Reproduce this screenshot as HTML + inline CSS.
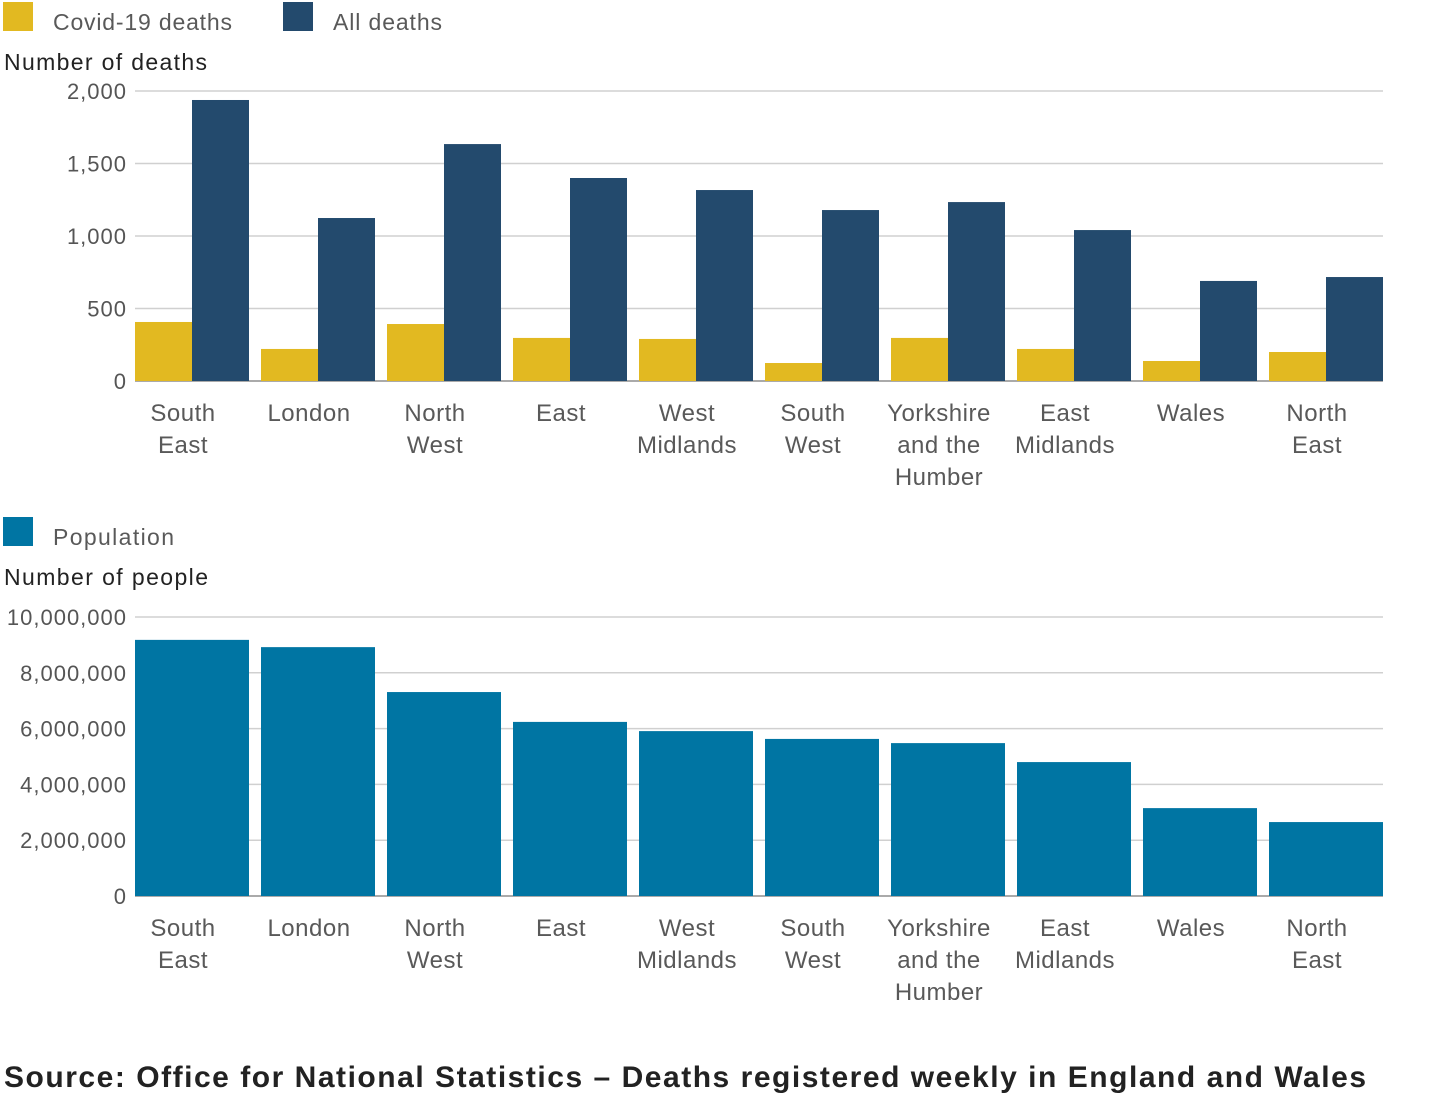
<!DOCTYPE html>
<html><head><meta charset="utf-8"><style>
body{margin:0;background:#fff;width:1448px;height:1103px;overflow:hidden;font-family:"Liberation Sans",sans-serif}
svg text{font-family:"Liberation Sans",sans-serif}
</style></head><body>
<svg id="c" width="1448" height="1103"></svg>
<script>
const categories=[["South","East"],["London"],["North","West"],["East"],["West","Midlands"],["South","West"],["Yorkshire","and the","Humber"],["East","Midlands"],["Wales"],["North","East"]];
const covidDeaths=[407,221,393,297,290,124,297,221,138,200];
const allDeaths=[1938,1124,1634,1400,1317,1179,1234,1041,690,717];
const population=[9180000,8920000,7310000,6240000,5910000,5630000,5480000,4800000,3150000,2650000];
const deathTicks=[0,500,1000,1500,2000];
const deathTickLabels=["0","500","1,000","1,500","2,000"];
const popTicks=[0,2000000,4000000,6000000,8000000,10000000];
const popTickLabels=["0","2,000,000","4,000,000","6,000,000","8,000,000","10,000,000"];

const svg=document.getElementById('c');
const NS='http://www.w3.org/2000/svg';
function mk(tag,attrs,parent){const e=document.createElementNS(NS,tag);for(const k in attrs)e.setAttribute(k,attrs[k]);(parent||svg).appendChild(e);return e;}
function txt(x,y,s,attrs){const t=mk('text',Object.assign({x:x,y:y},attrs));t.textContent=s;return t;}
const X0=135,STEP=126,BW=57;
function yD(v){return 381-v*(290/2000);}
function yP(v){return 896-v*(279/10000000);}

let r=mk('rect',{x:3,y:2,width:30,height:29,fill:'#e2b921'});

let t=txt(53,30,'Covid-19 deaths',{'font-size':23,fill:'#595959',textLength:179});

r=mk('rect',{x:283,y:2,width:30,height:29,fill:'#234a6d'});

t=txt(333,30,'All deaths',{'font-size':23,fill:'#595959',textLength:109});

t=txt(4,70,'Number of deaths',{'font-size':23,fill:'#222',textLength:203});


deathTicks.forEach((v,i)=>{
  const g=mk('line',{x1:135,x2:1383,y1:yD(v),y2:yD(v),stroke:v===0?'#aaa':'#d0d0d0','stroke-width':v===0?2:1.5});
  
  const l=txt(127,yD(v)+8,deathTickLabels[i],{'font-size':22,fill:'#555','text-anchor':'end','letter-spacing':1});
  
});
categories.forEach((c,i)=>{
  const x=X0+i*STEP;
  const b1=mk('rect',{x:x,y:yD(covidDeaths[i]),width:BW,height:yD(0)-yD(covidDeaths[i]),fill:'#e2b921'});
  
  const b2=mk('rect',{x:x+BW,y:yD(allDeaths[i]),width:BW,height:yD(0)-yD(allDeaths[i]),fill:'#234a6d'});
  
  c.forEach((s,j)=>{const l=txt(183+i*STEP,421+j*32,s,{'font-size':24,fill:'#595959','text-anchor':'middle','letter-spacing':0.5});
    });
});

r=mk('rect',{x:3,y:517,width:30,height:29,fill:'#0075a3'});

t=txt(53,545,'Population',{'font-size':23,fill:'#595959',textLength:121});

t=txt(4,585,'Number of people',{'font-size':23,fill:'#222',textLength:204});

popTicks.forEach((v,i)=>{
  const g=mk('line',{x1:135,x2:1383,y1:yP(v),y2:yP(v),stroke:v===0?'#aaa':'#d0d0d0','stroke-width':v===0?2:1.5});
  
  const l=txt(127,yP(v)+8,popTickLabels[i],{'font-size':22,fill:'#555','text-anchor':'end','letter-spacing':1});
  
});
categories.forEach((c,i)=>{
  const x=X0+i*STEP;
  const b=mk('rect',{x:x,y:yP(population[i]),width:BW*2,height:yP(0)-yP(population[i]),fill:'#0075a3'});
  
  c.forEach((s,j)=>{const l=txt(183+i*STEP,936+j*32,s,{'font-size':24,fill:'#595959','text-anchor':'middle','letter-spacing':0.5});
    });
});
t=txt(4,1087,'Source: Office for National Statistics – Deaths registered weekly in England and Wales',{'font-size':30,'font-weight':'bold',fill:'#222',textLength:1362});

</script>
</body></html>
